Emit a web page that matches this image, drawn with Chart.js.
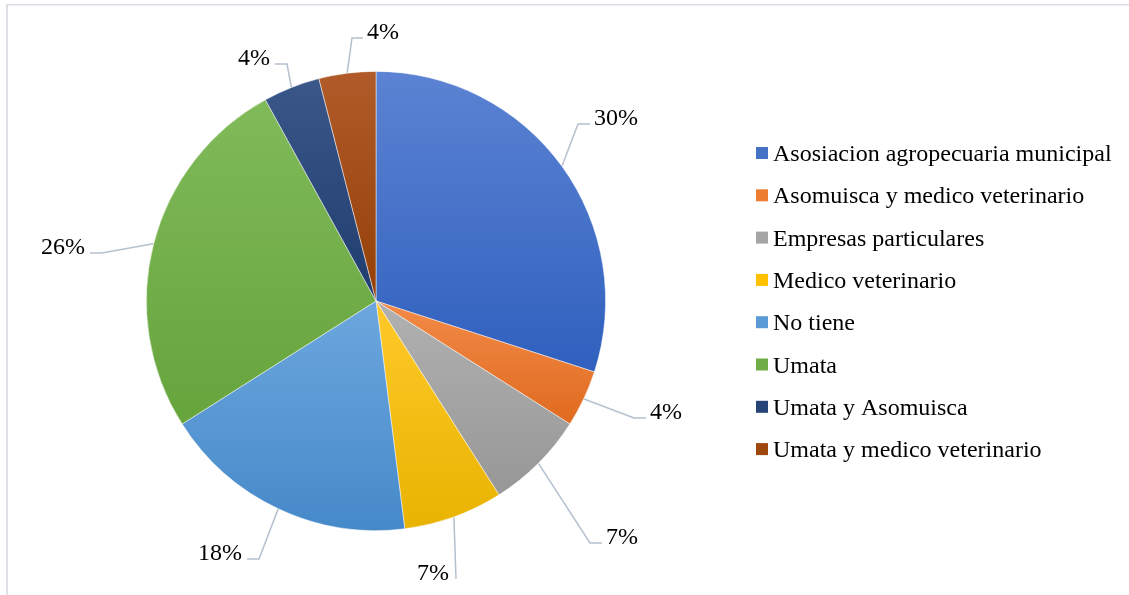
<!DOCTYPE html>
<html>
<head>
<meta charset="utf-8">
<script src="https://cdn.jsdelivr.net/npm/chart.js@4.4.1/dist/chart.umd.min.js"></script>
<style>
  html, body { margin: 0; padding: 0; background: #ffffff; }
  #wrap { position: relative; width: 1129px; height: 595px; }
</style>
</head>
<body>
<div id="wrap"><canvas id="chart" width="1129" height="595"></canvas></div>
<script>
// Categories and their shares (percent)
const categories = [
  'Asosiacion agropecuaria municipal',
  'Asomuisca y medico veterinario',
  'Empresas particulares',
  'Medico veterinario',
  'No tiene',
  'Umata',
  'Umata y Asomuisca',
  'Umata y medico veterinario'
];
const shares = [30, 4, 7, 7, 18, 26, 4, 4];

// Slice fills: lighter tone at the top of each slice, deeper at the bottom
const topColors    = ['#5c83d3', '#f28b48', '#b1b1b1', '#ffca2a', '#6ca7de', '#80ba5a', '#3b5789', '#b05b29'];
const bottomColors = ['#2f60be', '#e06a1f', '#979797', '#e8b300', '#4689c9', '#66a43c', '#1f3c6f', '#953f08'];
const legendColors = ['#4472c4', '#ed7d31', '#a5a5a5', '#ffc000', '#5b9bd5', '#70ad47', '#264478', '#9e480e'];

// Leader-line layout: elbow offset from pie centre and horizontal run length
const labelElbows = [[202, -177], [258, 117], [214, 242], [80, 278], [-117, 258], [-274, -48], [-89, -237], [-24, -263]];
const labelRuns = [12, 12, 12, 0, -12, -12, -12, 11];

const FONT = '"Liberation Serif", "Times New Roman", serif';
const FONT_SIZE = 24;

function pieGeometry(chart) {
  const a = chart.chartArea;
  const cx = (a.left + a.right) / 2;
  const cy = (a.top + a.bottom) / 2;
  const r = Math.min(a.right - a.left, a.bottom - a.top) / 2;
  return { cx, cy, r };
}

function sliceAngles(i) {
  const total = shares.reduce((s, v) => s + v, 0);
  let before = 0;
  for (let k = 0; k < i; k++) before += shares[k];
  const a0 = -Math.PI / 2 + (before / total) * 2 * Math.PI;
  const a1 = a0 + (shares[i] / total) * 2 * Math.PI;
  return [a0, a1];
}

function sliceGradient(context) {
  const chart = context.chart;
  const i = context.dataIndex;
  if (!chart.chartArea || i === undefined) return legendColors[i] || '#999';
  const { cx, cy, r } = pieGeometry(chart);
  const [a0, a1] = sliceAngles(i);
  const ys = [cy, cy + r * Math.sin(a0), cy + r * Math.sin(a1)];
  for (let k = -4; k <= 8; k++) {
    const ang = k * Math.PI / 2;
    if (ang > a0 && ang < a1) ys.push(cy + r * Math.sin(ang));
  }
  const y0 = Math.min(...ys), y1 = Math.max(...ys);
  const g = chart.ctx.createLinearGradient(0, y0, 0, y1);
  g.addColorStop(0, topColors[i]);
  g.addColorStop(1, bottomColors[i]);
  return g;
}

const framePlugin = {
  id: 'frame',
  beforeDraw(chart) {
    const c = chart.ctx;
    c.save();
    c.fillStyle = '#ffffff';
    c.fillRect(0, 0, chart.width, chart.height);
    c.fillStyle = '#dde1e7';
    c.fillRect(6, 4, chart.width - 6, 1.5);
    c.fillRect(6, 4, 2, chart.height - 4);
    c.restore();
  }
};

const labelPlugin = {
  id: 'sliceLabels',
  afterDatasetsDraw(chart) {
    const c = chart.ctx;
    const { cx, cy, r } = pieGeometry(chart);
    c.save();
    c.font = FONT_SIZE + 'px ' + FONT;
    c.textBaseline = 'middle';
    shares.forEach((v, i) => {
      const [a0, a1] = sliceAngles(i);
      const mid = (a0 + a1) / 2;
      const sx = cx + r * Math.cos(mid);
      const sy = cy + r * Math.sin(mid);
      const ex = cx + labelElbows[i][0];
      const ey = cy + labelElbows[i][1];
      const run = labelRuns[i];
      c.strokeStyle = '#b5c0cf';
      c.lineWidth = 1.5;
      c.beginPath();
      c.moveTo(sx, sy);
      c.lineTo(ex, ey);
      if (run !== 0) c.lineTo(ex + run, ey);
      c.stroke();
      c.fillStyle = '#000000';
      const text = v + '%';
      if (run > 0) {
        c.textAlign = 'left';
        c.fillText(text, ex + run + 4, ey - 5);
      } else if (run < 0) {
        c.textAlign = 'right';
        c.fillText(text, ex + run - 5, ey - 5);
      } else {
        c.textAlign = 'right';
        c.fillText(text, ex - 7, ey - 5);
      }
    });
    c.restore();
  }
};

const legendPlugin = {
  id: 'sideLegend',
  afterDraw(chart) {
    const c = chart.ctx;
    c.save();
    c.font = FONT_SIZE + 'px ' + FONT;
    c.textAlign = 'left';
    c.textBaseline = 'alphabetic';
    categories.forEach((name, i) => {
      const yc = 153 + i * 42.3;
      c.fillStyle = legendColors[i];
      c.fillRect(756, yc - 6, 12, 12);
      c.fillStyle = '#000000';
      c.fillText(name, 773, yc + 8);
    });
    c.restore();
  }
};

new Chart(document.getElementById('chart'), {
  type: 'pie',
  data: {
    labels: categories,
    datasets: [{
      data: shares,
      backgroundColor: sliceGradient,
      borderColor: 'rgba(255,255,255,0.6)',
      borderWidth: 0.8
    }]
  },
  options: {
    responsive: false,
    animation: false,
    events: [],
    layout: { padding: { left: 146, right: 523, top: 71, bottom: 64 } },
    plugins: {
      legend: { display: false },
      tooltip: { enabled: false },
      title: { display: false }
    }
  },
  plugins: [framePlugin, labelPlugin, legendPlugin]
});
</script>
</body>
</html>
